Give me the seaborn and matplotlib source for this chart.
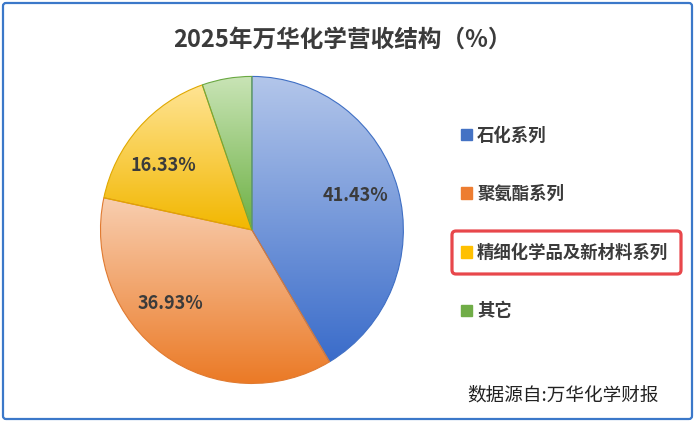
import numpy as np
import matplotlib.pyplot as plt
import seaborn as sns
from matplotlib.patches import FancyBboxPatch, Rectangle

sns.set_theme(style='white')
plt.rcParams['font.family'] = ['Noto Sans CJK SC', 'DejaVu Sans']

# data
categories = ['石化系列', '聚氨酯系列', '精细化学品及新材料系列', '其它']
shares = [41.43, 36.93, 16.33, 5.31]
shown_labels = ['41.43%', '36.93%', '16.33%', '']

title = '2025年万华化学营收结构（%）'
source = '数据源自:万华化学财报'

# styles
top_colors = ['#b3c6ea', '#f8ceb0', '#ffe494', '#c9e4b6']
bottom_colors = ['#3a6cca', '#eb7a26', '#f2b700', '#6cb043']
edge_colors = ['#3f6fc4', '#e07a30', '#e0a800', '#6aa842']
legend_colors = ['#4472c4', '#ed7d31', '#ffc000', '#70ad47']
label_shift_deg = [3, -13, 6, 0]
text_dark = '#3b3b3b'


def main():
    fig = plt.figure(figsize=(7, 4.26), dpi=100)
    ax = fig.add_axes([0.1414, 0.0962, 0.437, 0.728])

    wedges, _ = ax.pie(shares, startangle=90, counterclock=False, radius=1,
                       wedgeprops=dict(linewidth=0.8))

    for i, w in enumerate(wedges):
        w.set_facecolor('none')
        w.set_edgecolor(edge_colors[i])
        w.set_zorder(3)
        ext = w.get_path().get_extents()
        cmap = sns.blend_palette([top_colors[i], bottom_colors[i]], as_cmap=True)
        grad = np.linspace(0, 1, 256).reshape(-1, 1)
        im = ax.imshow(grad, extent=[ext.x0, ext.x1, ext.y0, ext.y1], origin='upper',
                       cmap=cmap, aspect='auto', zorder=2, interpolation='bilinear')
        im.set_clip_path(w)

        if shown_labels[i]:
            mid = np.deg2rad((w.theta1 + w.theta2) / 2 + label_shift_deg[i])
            ax.text(0.72 * np.cos(mid), 0.72 * np.sin(mid), shown_labels[i],
                    ha='center', va='center', fontsize=13, fontweight='bold',
                    color=text_dark, zorder=5)

    ax.set_xlim(-1.01, 1.01)
    ax.set_ylim(-1.01, 1.01)
    ax.set_aspect('auto')
    ax.axis('off')

    fig.text(342 / 700, 1 - 40 / 426, title, ha='center', va='center',
             fontsize=17, fontweight='bold', color=text_dark)

    handles = [Rectangle((0, 0), 1, 1, facecolor=c, edgecolor=c) for c in legend_colors]
    fig.legend(handles, categories, loc='upper left', bbox_to_anchor=(445 / 700, 1 - 111 / 426),
               frameon=False, labelspacing=2.34, handlelength=0.65,
               handleheight=0.65, handletextpad=0.3, labelcolor=text_dark,
               prop={'weight': 'bold', 'size': 12.5})

    fig.text(467 / 700, 1 - 395 / 426, source, ha='left', va='center',
             fontsize=13.4, color='#222222')

    # red highlight box around third legend item
    fig.patches.append(FancyBboxPatch((4.52, 1.52), 2.29, 0.43,
                                      boxstyle='round,pad=0,rounding_size=0.04',
                                      transform=fig.dpi_scale_trans, fill=False,
                                      edgecolor='#e8474b', linewidth=2.3))
    # outer frame
    fig.patches.append(FancyBboxPatch((0.03, 0.07), 6.89, 4.16,
                                      boxstyle='round,pad=0,rounding_size=0.03',
                                      transform=fig.dpi_scale_trans, fill=False,
                                      edgecolor='#3b78c9', linewidth=1.6))

    fig.savefig('out.png', dpi=100)
    plt.close(fig)


if __name__ == '__main__':
    main()
